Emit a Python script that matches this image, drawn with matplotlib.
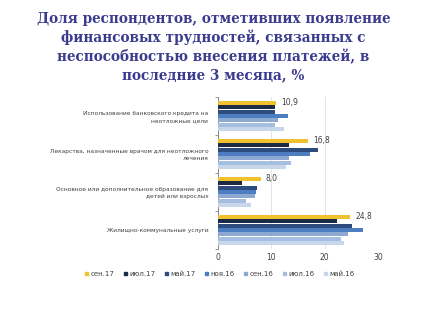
import matplotlib
matplotlib.use("Agg")
import matplotlib.pyplot as plt
import numpy as np

categories = [
    "Использование банковского кредита на\nнеотложные цели",
    "Лекарства, назначенные врачом для неотложного\nлечения",
    "Основное или дополнительное образование для\nдетей или взрослых",
    "Жилищно-коммунальные услуги",
]
series_names = ["сен.17", "июл.17", "май.17", "ноя.16", "сен.16", "июл.16", "май.16"]
values = {
    "сен.17": [10.9, 16.8, 8.0, 24.8],
    "июл.17": [10.6, 13.4, 4.5, 22.4],
    "май.17": [10.6, 18.7, 7.4, 25.2],
    "ноя.16": [13.1, 17.2, 7.1, 27.1],
    "сен.16": [11.3, 13.4, 6.9, 24.4],
    "июл.16": [10.6, 13.7, 5.2, 23.1],
    "май.16": [12.3, 12.8, 6.1, 23.6],
}
label_series = "сен.17"
colors = ["#F2C12E", "#1C2B45", "#2D4B7C", "#4E7EC2", "#8EA9D1", "#A6BEDF", "#C8D6EC"]
title = "Доля респондентов, отметивших появление\nфинансовых трудностей, связанных с\nнеспособностью внесения платежей, в\nпоследние 3 месяца, %"

fig = plt.figure(figsize=(4.27, 3.2), dpi=100)
fig.patch.set_facecolor("white")
fig.text(0.5, 1 - 47/320, title, ha="center", va="center", fontsize=9.8,
         fontweight="bold", color="#3B3B8F", family="DejaVu Serif", linespacing=1.33)

ax = fig.add_axes([218/427, 1-249/320, (378-218)/427, (249-97)/320])
n_cat = len(categories)
n_ser = len(series_names)
group_h = 0.82
bar_h = group_h / n_ser
y_centers = np.arange(n_cat)[::-1]
for i, name in enumerate(series_names):
    ys = y_centers + group_h/2 - bar_h*(i+0.5)
    ax.barh(ys, values[name], height=bar_h*0.88, color=colors[i], zorder=3)
    if name == label_series:
        for y, v in zip(ys, values[name]):
            ax.text(v + 1.0, y, f"{v:.1f}".replace(".", ","), va="center", ha="left",
                    fontsize=5.5, color="#404040")

ax.set_xlim(0, 30)
ax.set_ylim(-0.5, n_cat - 0.5)
ax.set_xticks([0, 10, 20, 30])
ax.tick_params(axis="x", labelsize=5.5, colors="#404040", length=0, pad=3)
ax.set_yticks(y_centers)
ax.set_yticklabels(categories, fontsize=4.2, color="#404040", linespacing=1.4)
ax.tick_params(axis="y", length=0, pad=7)
ax.set_yticks(np.arange(n_cat + 1) - 0.5, minor=True)
ax.tick_params(axis="y", which="minor", length=2.5, color="#888888")
ax.grid(axis="x", color="#E0E0E0", linewidth=0.6, zorder=0)
for s in ["top", "right", "bottom"]:
    ax.spines[s].set_visible(False)
ax.spines["left"].set_color("#888888")
ax.spines["left"].set_linewidth(0.7)

from matplotlib.patches import Patch
handles = [Patch(color=c) for c in colors]
fig.legend(handles, series_names, loc="center", bbox_to_anchor=(0.515, 1-274/320),
           ncol=7, fontsize=5, frameon=False, handlelength=0.45, handleheight=0.45,
           columnspacing=1.3, handletextpad=0.4, labelcolor="#404040")

fig.savefig("out.png", dpi=100)
